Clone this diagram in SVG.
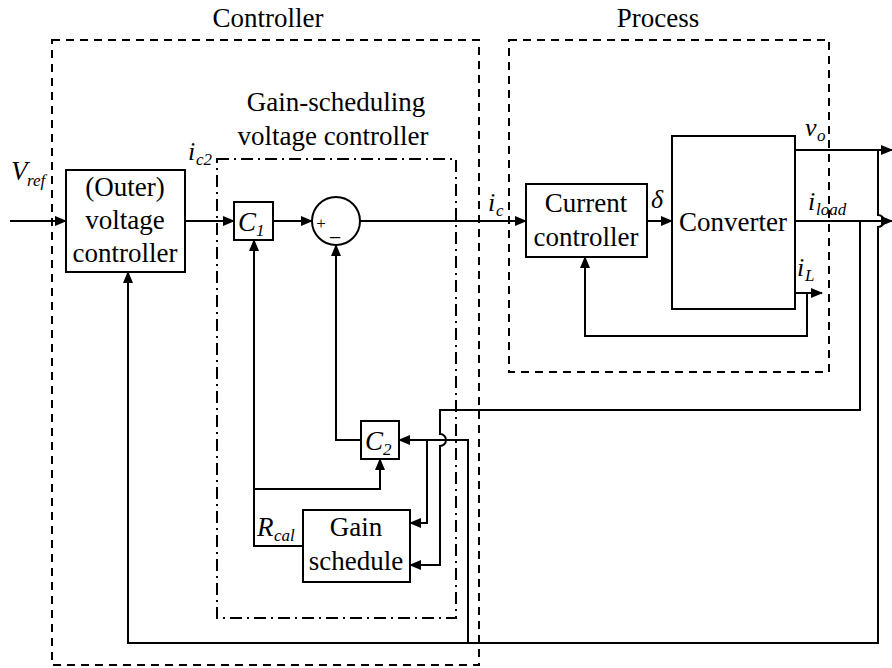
<svg xmlns="http://www.w3.org/2000/svg" width="892" height="668" viewBox="0 0 892 668">
<style>
.bg{fill:#fff}
.box{fill:#fff;stroke:#000;stroke-width:2}
.dash{fill:none;stroke:#000;stroke-width:2;stroke-dasharray:8 6}
.dashdot{fill:none;stroke:#000;stroke-width:2;stroke-dasharray:12 5 2 5}
.wire{fill:none;stroke:#000;stroke-width:2}
.arr{marker-end:url(#ah)}
text{font-family:"Liberation Serif","Times New Roman",serif;fill:#000}
.t{font-size:27px;text-anchor:middle}
.lab{font-size:26px;font-style:italic}
.sub{font-size:17px;font-style:italic}
</style>
<defs>
<marker id="ah" markerWidth="12" markerHeight="10" refX="11" refY="5" orient="auto" markerUnits="userSpaceOnUse">
<path d="M0,0 L12,5 L0,10 z" fill="#000"/>
</marker>
</defs>
<rect class="bg" x="0" y="0" width="892" height="668"/>

<g id="regions">
<rect class="dash" x="52" y="40" width="427" height="625"/>
<text class="t" x="268" y="27">Controller</text>
<rect class="dash" x="509" y="40" width="320" height="332"/>
<text class="t" x="658" y="27">Process</text>
<rect class="dashdot" x="217" y="159" width="239" height="459"/>
<text class="t" x="336" y="111">Gain-scheduling</text>
<text class="t" x="333" y="145">voltage controller</text>
</g>

<g id="connectors">
<path class="wire arr" d="M10,221 H66"/>
<path class="wire arr" d="M185,221 H234"/>
<path class="wire arr" d="M273,221 H312"/>
<path class="wire arr" d="M360,221 H526"/>
<path class="wire arr" d="M647,221 H672"/>
<path class="wire arr" d="M795,150 H892"/>
<path class="wire arr" d="M795,221 H892"/>
<path class="wire arr" d="M795,293 H822"/>
<path class="wire arr" d="M807,293 V336 H585 V257"/>
<path class="wire arr" d="M878,150 V215 A6,6 0 0 1 878,227 V643 H128 V272"/>
<path class="wire arr" d="M468,643 V440 H399"/>
<path class="wire arr" d="M427,440 V523 H410"/>
<path class="wire arr" d="M860,221 V410 H440 V434 A6,6 0 0 1 440,446 V565 H410"/>
<path class="wire arr" d="M361,440 H336 V245"/>
<path class="wire arr" d="M303,546 H254 V240"/>
<path class="wire arr" d="M254,489 H380 V459"/>
</g>

<g id="outer-voltage-controller">
<rect class="box" x="66" y="170" width="119" height="102"/>
<text class="t" x="125" y="196">(Outer)</text>
<text class="t" x="125" y="229">voltage</text>
<text class="t" x="125" y="262">controller</text>
</g>

<g id="C1">
<rect class="box" x="234" y="202" width="39" height="38"/>
<text x="238" y="231" class="lab" style="font-size:27px">C</text>
<text x="256" y="236" class="sub">1</text>
</g>

<g id="sum">
<circle class="box" cx="336" cy="221" r="24"/>
<text x="321" y="229" style="font-size:17px;text-anchor:middle">+</text>
<text x="335" y="235" style="font-size:20px;text-anchor:middle">_</text>
</g>

<g id="C2">
<rect class="box" x="361" y="421" width="38" height="38"/>
<text x="365" y="450" class="lab" style="font-size:27px">C</text>
<text x="383" y="455" class="sub">2</text>
</g>

<g id="gain-schedule">
<rect class="box" x="303" y="510" width="107" height="72"/>
<text class="t" x="356" y="536">Gain</text>
<text class="t" x="356" y="570">schedule</text>
</g>

<g id="current-controller">
<rect class="box" x="526" y="184" width="121" height="73"/>
<text class="t" x="586" y="212">Current</text>
<text class="t" x="586" y="246">controller</text>
</g>

<g id="converter">
<rect class="box" x="672" y="136" width="123" height="173"/>
<text class="t" x="733" y="231">Converter</text>
</g>

<g id="labels">
<text x="11" y="180" class="lab" style="font-size:27px">V</text>
<text x="27" y="186" class="sub">ref</text>
<text x="188" y="160" class="lab">i</text>
<text x="196" y="165" class="sub">c2</text>
<text x="488" y="211" class="lab">i</text>
<text x="496" y="216" class="sub">c</text>
<text x="651" y="208" class="lab">δ</text>
<text x="805" y="136" class="lab">v</text>
<text x="817" y="141" class="sub">o</text>
<text x="808" y="210" class="lab">i</text>
<text x="816" y="215" class="sub">load</text>
<text x="797" y="276" class="lab">i</text>
<text x="805" y="281" class="sub">L</text>
<text x="257" y="536" class="lab" style="font-size:27px">R</text>
<text x="274" y="541" class="sub">cal</text>
</g>
</svg>
